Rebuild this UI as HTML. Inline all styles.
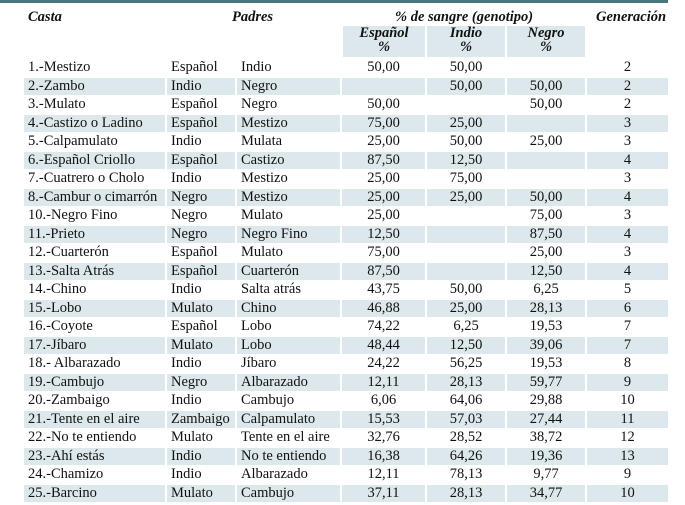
<!DOCTYPE html>
<html><head><meta charset="utf-8"><style>
body{margin:0;width:685px;height:505px;background:#fff;overflow:hidden;position:relative;font-family:"Liberation Serif",serif;color:#111;font-size:14.5px}
.top{position:absolute;left:0;top:0;width:668px;height:3px;background:#4a7680}
.h{position:absolute;font-weight:bold;font-style:italic;font-size:14.5px;line-height:16px}
.sub{position:absolute;top:26px;height:31px;background:#dde8ec;text-align:center;font-weight:bold;font-style:italic;font-size:14.5px;line-height:14px}
table{position:absolute;left:22px;top:58px;height:445px;border-collapse:separate;border-spacing:2px 1px;table-layout:fixed}
td{padding:0;line-height:15px;white-space:nowrap;overflow:hidden}
td:nth-child(-n+3){padding-left:4px;text-align:left}
td:nth-child(n+4){text-align:center}
tr:nth-child(even) td{background:#dde8ec}
</style></head><body>
<div class="top"></div>
<div class="h" style="left:28px;top:9px">Casta</div>
<div class="h" style="left:232px;top:9px">Padres</div>
<div class="h" style="left:395px;top:9px">% de sangre (genotipo)</div>
<div class="h" style="left:596px;top:9px">Generación</div>
<div class="sub" style="left:343px;width:82px">Español<br>%</div>
<div class="sub" style="left:427px;width:78px">Indio<br>%</div>
<div class="sub" style="left:507px;width:78px">Negro<br>%</div>
<table>
<colgroup><col style="width:141px"><col style="width:68px"><col style="width:103px"><col style="width:83px"><col style="width:78px"><col style="width:78px"><col style="width:81px"></colgroup>
<tr><td>1.-Mestizo</td><td>Español</td><td>Indio</td><td>50,00</td><td>50,00</td><td></td><td>2</td></tr>
<tr><td>2.-Zambo</td><td>Indio</td><td>Negro</td><td></td><td>50,00</td><td>50,00</td><td>2</td></tr>
<tr><td>3.-Mulato</td><td>Español</td><td>Negro</td><td>50,00</td><td></td><td>50,00</td><td>2</td></tr>
<tr><td>4.-Castizo o Ladino</td><td>Español</td><td>Mestizo</td><td>75,00</td><td>25,00</td><td></td><td>3</td></tr>
<tr><td>5.-Calpamulato</td><td>Indio</td><td>Mulata</td><td>25,00</td><td>50,00</td><td>25,00</td><td>3</td></tr>
<tr><td>6.-Español Criollo</td><td>Español</td><td>Castizo</td><td>87,50</td><td>12,50</td><td></td><td>4</td></tr>
<tr><td>7.-Cuatrero o Cholo</td><td>Indio</td><td>Mestizo</td><td>25,00</td><td>75,00</td><td></td><td>3</td></tr>
<tr><td>8.-Cambur o cimarrón</td><td>Negro</td><td>Mestizo</td><td>25,00</td><td>25,00</td><td>50,00</td><td>4</td></tr>
<tr><td>10.-Negro Fino</td><td>Negro</td><td>Mulato</td><td>25,00</td><td></td><td>75,00</td><td>3</td></tr>
<tr><td>11.-Prieto</td><td>Negro</td><td>Negro Fino</td><td>12,50</td><td></td><td>87,50</td><td>4</td></tr>
<tr><td>12.-Cuarterón</td><td>Español</td><td>Mulato</td><td>75,00</td><td></td><td>25,00</td><td>3</td></tr>
<tr><td>13.-Salta Atrás</td><td>Español</td><td>Cuarterón</td><td>87,50</td><td></td><td>12,50</td><td>4</td></tr>
<tr><td>14.-Chino</td><td>Indio</td><td>Salta atrás</td><td>43,75</td><td>50,00</td><td>6,25</td><td>5</td></tr>
<tr><td>15.-Lobo</td><td>Mulato</td><td>Chino</td><td>46,88</td><td>25,00</td><td>28,13</td><td>6</td></tr>
<tr><td>16.-Coyote</td><td>Español</td><td>Lobo</td><td>74,22</td><td>6,25</td><td>19,53</td><td>7</td></tr>
<tr><td>17.-Jíbaro</td><td>Mulato</td><td>Lobo</td><td>48,44</td><td>12,50</td><td>39,06</td><td>7</td></tr>
<tr><td>18.- Albarazado</td><td>Indio</td><td>Jíbaro</td><td>24,22</td><td>56,25</td><td>19,53</td><td>8</td></tr>
<tr><td>19.-Cambujo</td><td>Negro</td><td>Albarazado</td><td>12,11</td><td>28,13</td><td>59,77</td><td>9</td></tr>
<tr><td>20.-Zambaigo</td><td>Indio</td><td>Cambujo</td><td>6,06</td><td>64,06</td><td>29,88</td><td>10</td></tr>
<tr><td>21.-Tente en el aire</td><td>Zambaigo</td><td>Calpamulato</td><td>15,53</td><td>57,03</td><td>27,44</td><td>11</td></tr>
<tr><td>22.-No te entiendo</td><td>Mulato</td><td>Tente en el aire</td><td>32,76</td><td>28,52</td><td>38,72</td><td>12</td></tr>
<tr><td>23.-Ahí estás</td><td>Indio</td><td>No te entiendo</td><td>16,38</td><td>64,26</td><td>19,36</td><td>13</td></tr>
<tr><td>24.-Chamizo</td><td>Indio</td><td>Albarazado</td><td>12,11</td><td>78,13</td><td>9,77</td><td>9</td></tr>
<tr><td>25.-Barcino</td><td>Mulato</td><td>Cambujo</td><td>37,11</td><td>28,13</td><td>34,77</td><td>10</td></tr>
</table>
</body></html>
